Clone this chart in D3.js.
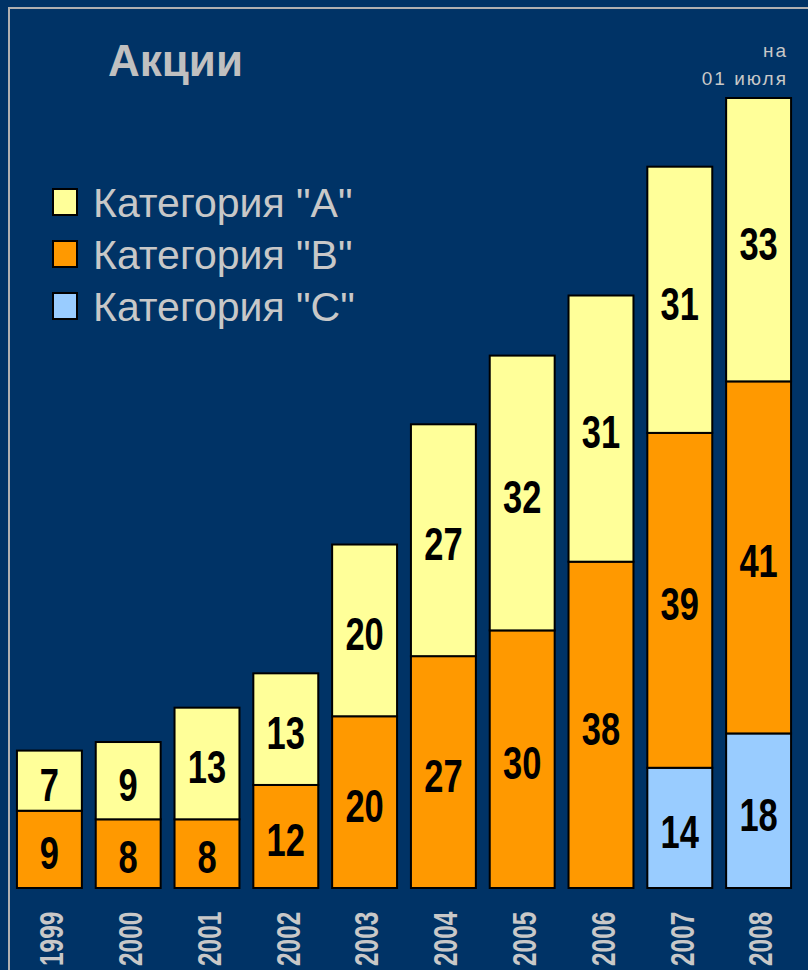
<!DOCTYPE html>
<html><head><meta charset="utf-8">
<script src="https://cdn.jsdelivr.net/npm/d3@7"></script>
<style>html,body{margin:0;padding:0;background:#003366;}</style>
</head><body>
<script>
const years = ["1999","2000","2001","2002","2003","2004","2005","2006","2007","2008"];
const catA = [7, 9, 13, 13, 20, 27, 32, 31, 31, 33];
const catB = [9, 8, 8, 12, 20, 27, 30, 38, 39, 41];
const catC = [0, 0, 0, 0, 0, 0, 0, 0, 14, 18];
const seriesNames = ['Категория "А"', 'Категория "В"', 'Категория "С"'];
const colors = ["#FFFF99", "#FF9900", "#99CCFF"];

const W = 808, H = 970;
const svg = d3.select("body").append("svg").attr("width", W).attr("height", H);
svg.append("rect").attr("width", W).attr("height", H).attr("fill", "#003366");
// frame
svg.append("path").attr("d", `M9,${H} V8 H${W}`).attr("fill", "none")
  .attr("stroke", "#b0b0b0").attr("stroke-width", 2);

const rows = years.map((y, i) => ({year: y, C: catC[i], B: catB[i], A: catA[i]}));
const stack = d3.stack().keys(["C", "B", "A"])(rows);
const colorOf = {A: colors[0], B: colors[1], C: colors[2]};

const x = d3.scaleBand().domain(years).range([10, 798]).paddingInner(0.176).paddingOuter(0.088);
const y = d3.scaleLinear().domain([0, 92]).range([888, 98]);

const g = svg.append("g");
stack.forEach(layer => {
  const key = layer.key;
  layer.forEach((d, i) => {
    if (d[1] - d[0] <= 0) return;
    g.append("rect")
      .attr("x", x(years[i])).attr("width", x.bandwidth())
      .attr("y", y(d[1])).attr("height", y(d[0]) - y(d[1]))
      .attr("fill", colorOf[key]).attr("stroke", "#000").attr("stroke-width", 2);
    const cx = x(years[i]) + x.bandwidth() / 2;
    const cy = (y(d[0]) + y(d[1])) / 2 + 4;
    g.append("text")
      .attr("transform", `translate(${cx},${cy}) scale(0.75,1)`)
      .attr("text-anchor", "middle").attr("dominant-baseline", "central")
      .attr("font-family", "Liberation Sans, Arial, sans-serif")
      .attr("font-weight", "bold").attr("font-size", 46).attr("fill", "#000")
      .text(d[1] - d[0]);
  });
});

// x axis labels
const xAxis = d3.axisBottom(x).tickSize(0).tickPadding(0);
const ax = svg.append("g").call(xAxis);
ax.select(".domain").remove();
ax.selectAll(".tick text")
  .attr("transform", `translate(2,966) rotate(-90) scale(0.74,1)`)
  .attr("x", 0).attr("y", 0).attr("dy", "0.36em")
  .attr("text-anchor", "start")
  .attr("font-family", "Liberation Sans, Arial, sans-serif")
  .attr("font-weight", "bold").attr("font-size", 33).attr("fill", "#c8c8c8");

// title
svg.append("text").attr("x", 108).attr("y", 76)
  .attr("font-family", "Liberation Sans, Arial, sans-serif").attr("font-weight", "bold")
  .attr("font-size", 44).attr("fill", "#c0c0c0").text("Акции");
svg.append("text").attr("x", 788).attr("y", 57).attr("text-anchor", "end")
  .attr("font-family", "Liberation Sans, Arial, sans-serif").attr("font-size", 19)
  .attr("letter-spacing", 2).attr("fill", "#c8c8c8").text("на");
svg.append("text").attr("x", 788).attr("y", 85).attr("text-anchor", "end")
  .attr("font-family", "Liberation Sans, Arial, sans-serif").attr("font-size", 19)
  .attr("letter-spacing", 2).attr("fill", "#c8c8c8").text("01 июля");

// legend
const leg = svg.append("g");
seriesNames.forEach((name, i) => {
  const ly = 189 + i * 52;
  leg.append("rect").attr("x", 53).attr("y", ly).attr("width", 24).attr("height", 26)
    .attr("fill", colors[i]).attr("stroke", "#000").attr("stroke-width", 2);
  leg.append("text").attr("x", 93).attr("y", ly + 28)
    .attr("font-family", "Liberation Sans, Arial, sans-serif").attr("font-size", 41)
    .attr("fill", "#c8c8c8").text(name);
});
</script>
</body></html>
